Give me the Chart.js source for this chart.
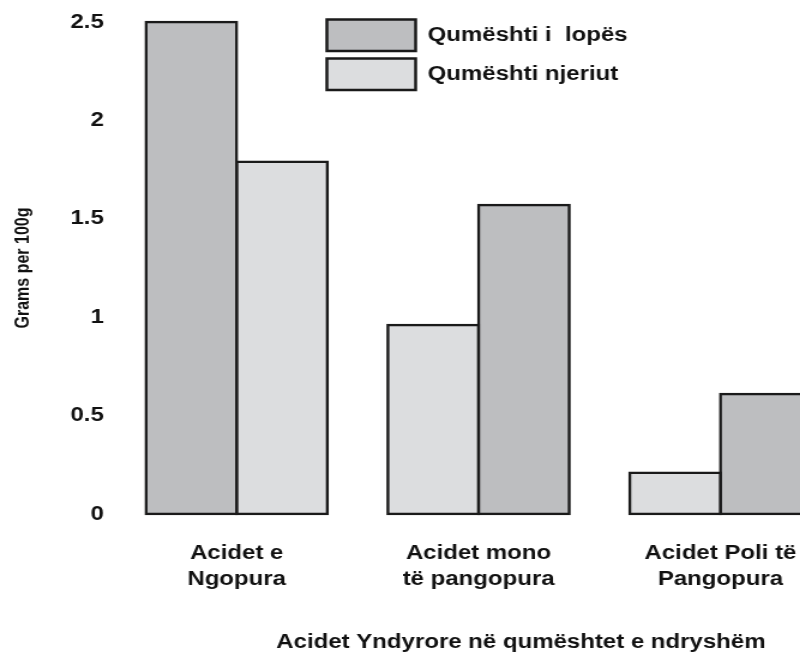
<!DOCTYPE html>
<html>
<head>
<meta charset="utf-8">
<script src="https://cdn.jsdelivr.net/npm/chart.js@4"></script>
<style>
  html, body { margin: 0; padding: 0; background: #fff; overflow: hidden; }
  #wrap { width: 800px; height: 654px; overflow: hidden; }
</style>
</head>
<body>
<!-- the source picture is a stretched, cropped plot: draw 772 px wide, show it 1.2x wider -->
<div id="wrap"><canvas id="fats_chart" width="772" height="654" style="width: 926.4px; height: 654px;"></canvas></div>
<script>
const fat_types = [["Acidet e", "Ngopura"], ["Acidet mono", "të pangopura"], ["Acidet Poli të", "Pangopura"]];
const cow_milk = [2.5, 1.57, 0.61];
const human_milk = [1.79, 0.96, 0.21];
// in the picture the cow bar comes first only in the first group
const cow_bar_first = [true, false, false];
const series_names = ["Qumështi i  lopës", "Qumështi njeriut"];
const y_ticks = [0, 0.5, 1, 1.5, 2, 2.5];

const cow_color = "#bdbec0";
const human_color = "#dcdddf";
const edge_color = "#1a1a1a";

const left_values = fat_types.map((_, i) => cow_bar_first[i] ? cow_milk[i] : human_milk[i]);
const right_values = fat_types.map((_, i) => cow_bar_first[i] ? human_milk[i] : cow_milk[i]);
const left_colors = cow_bar_first.map(c => c ? cow_color : human_color);
const right_colors = cow_bar_first.map(c => c ? human_color : cow_color);

Chart.defaults.font.family = "'Liberation Sans', Arial, sans-serif";
Chart.defaults.color = "#111";

const bar_style =
{
    borderColor: edge_color,
    borderWidth: 2.5,
    borderSkipped: false,
    inflateAmount: 1.25,
    barPercentage: 1,
    categoryPercentage: 0.75,
    clip: false
};

// put the legend where it sits in the picture, inside the plot
const place_legend =
{
    id: "place_legend",
    afterLayout(chart)
    {
        const lg = chart.legend;
        lg.left = 265;
        lg.right = lg.left + lg.width;
        lg.top = 12;
        lg.bottom = chart.chartArea.bottom;
    }
};

const fats_chart = new Chart("fats_chart",
{
    type: "bar",
    data:
    {
        datasets:
        [
            Object.assign({
                label: "left",
                data: left_values.map((v, i) => ({ x: i, y: v })),
                backgroundColor: left_colors
            }, bar_style),
            Object.assign({
                label: "right",
                data: right_values.map((v, i) => ({ x: i, y: v })),
                backgroundColor: right_colors
            }, bar_style)
        ]
    },
    plugins: [place_legend],
    options:
    {
        responsive: false,
        animation: false,
        events: [],
        layout: { padding: { top: 20.5, left: 0, right: 0, bottom: 0 } },
        plugins:
        {
            tooltip: { enabled: false },
            legend:
            {
                position: "chartArea",
                align: "start",
                labels:
                {
                    boxWidth: 74,
                    boxHeight: 31.5,
                    padding: 7.5,
                    font: { size: 20, weight: "bold" },
                    generateLabels: () => series_names.map((name, i) => ({
                        text: name,
                        fillStyle: i === 0 ? cow_color : human_color,
                        strokeStyle: edge_color,
                        lineWidth: 2.5,
                        fontColor: "#111",
                        hidden: false,
                        datasetIndex: i
                    }))
                }
            }
        },
        scales:
        {
            x:
            {
                type: "linear",
                min: -0.5,
                max: 2.85,
                offset: false,
                grid: { display: false, drawTicks: false },
                border: { display: false },
                afterBuildTicks: axis => { axis.ticks = fat_types.map((_, i) => ({ value: i })); },
                ticks:
                {
                    padding: 26,
                    maxRotation: 0,
                    minRotation: 0,
                    autoSkip: false,
                    font: { size: 20, weight: "bold", lineHeight: 1.3 },
                    callback: v => fat_types[v]
                },
                title:
                {
                    display: true,
                    text: "Acidet Yndyrore në qumështet e ndryshëm",
                    font: { size: 20, weight: "bold" },
                    padding: { top: 12, bottom: 0 }
                }
            },
            y:
            {
                min: 0,
                max: 2.5,
                grid: { display: false, drawTicks: false },
                border: { display: false },
                afterBuildTicks: axis => { axis.ticks = y_ticks.map(v => ({ value: v })); },
                ticks:
                {
                    padding: 10,
                    font: { size: 20, weight: "bold" },
                    callback: v => String(v)
                },
                title:
                {
                    display: true,
                    text: "Grams per 100g",
                    font: { size: 16, weight: "bold" },
                    padding: { top: 10, bottom: 19.5 }
                }
            }
        }
    }
});
</script>
</body>
</html>
